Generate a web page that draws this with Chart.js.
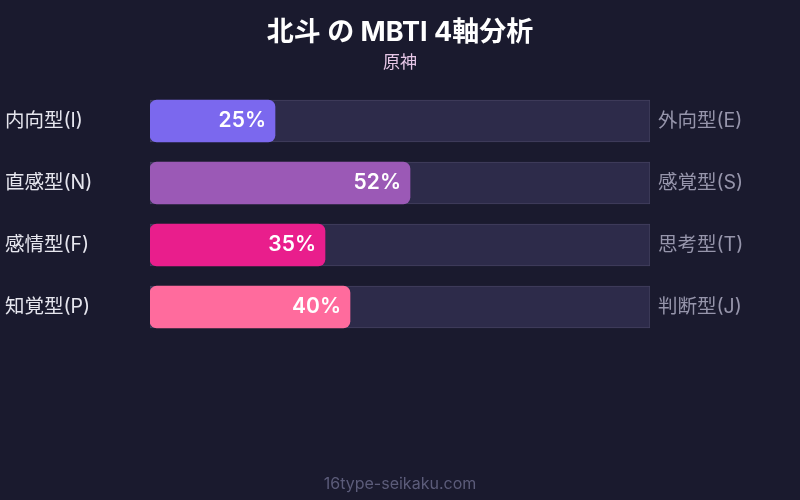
<!DOCTYPE html>
<html>
<head>
<meta charset="utf-8">
<script src="https://cdn.jsdelivr.net/npm/chart.js@4/dist/chart.umd.min.js"></script>
<style>
  html, body { margin: 0; padding: 0; background: #1a1a2e; }
  #wrap { width: 800px; height: 500px; }
</style>
</head>
<body>
<div id="wrap"><canvas id="mbti"></canvas></div>
<script>
  // Data
  const leftLabels = ['内向型(I)', '直感型(N)', '感情型(F)', '知覚型(P)'];
  const rightLabels = ['外向型(E)', '感覚型(S)', '思考型(T)', '判断型(J)'];
  const values = [25, 52, 35, 40];
  const trackValues = [100, 100, 100, 100];
  const barColors = ['#7b68ee', '#9b59b6', '#e91e8c', '#ff6b9d'];

  const titleText = '北斗 の MBTI 4軸分析';
  const subtitleText = '原神';
  const footerText = '16type-seikaku.com';

  const FONT = "Inter, 'Noto Sans CJK JP', sans-serif";

  // Labels, title and footer drawn on top of the chart
  const textPlugin = {
    id: 'mbtiText',
    afterDatasetsDraw(chart) {
      const { ctx, scales } = chart;
      const xs = scales.x, ys = scales.y;
      ctx.save();

      ctx.textAlign = 'center';
      ctx.textBaseline = 'middle';
      ctx.fillStyle = '#ffffff';
      ctx.font = "bold 27px " + FONT;
      ctx.fillText(titleText, 400, 33);
      ctx.fillStyle = '#e6c6e6';
      ctx.font = "17px " + FONT;
      ctx.fillText(subtitleText, 400, 63);

      ctx.fillStyle = '#5c5c7a';
      ctx.font = "16px " + FONT;
      ctx.fillText(footerText, 400, 484);

      leftLabels.forEach((lab, i) => {
        const y = ys.getPixelForValue(i);
        ctx.textAlign = 'left';
        ctx.fillStyle = '#e6e6ee';
        ctx.font = "19.5px " + FONT;
        ctx.fillText(lab, 5, y);

        ctx.fillStyle = '#9695ab';
        ctx.fillText(rightLabels[i], xs.getPixelForValue(100) + 8, y);

        ctx.textAlign = 'right';
        ctx.fillStyle = '#ffffff';
        ctx.font = "600 21px " + FONT;
        ctx.fillText(values[i] + '%', xs.getPixelForValue(values[i]) - 9, y);
      });
      ctx.restore();
    }
  };

  new Chart(document.getElementById('mbti'), {
    type: 'bar',
    data: {
      labels: leftLabels,
      datasets: [
        {
          data: values,
          backgroundColor: barColors,
          borderRadius: 7,
          borderSkipped: false,
          barThickness: 42,
          grouped: false,
          order: 1
        },
        {
          data: trackValues,
          backgroundColor: '#2d2b4a',
          borderColor: '#43415f',
          borderWidth: 1,
          borderSkipped: false,
          barThickness: 42,
          grouped: false,
          order: 2
        }
      ]
    },
    options: {
      indexAxis: 'y',
      responsive: true,
      maintainAspectRatio: false,
      animation: false,
      layout: { padding: { left: 150, right: 150, top: 90, bottom: 162 } },
      plugins: {
        legend: { display: false },
        tooltip: { enabled: false }
      },
      scales: {
        x: { min: 0, max: 100, display: false },
        y: { display: false }
      }
    },
    plugins: [textPlugin]
  });
</script>
</body>
</html>
